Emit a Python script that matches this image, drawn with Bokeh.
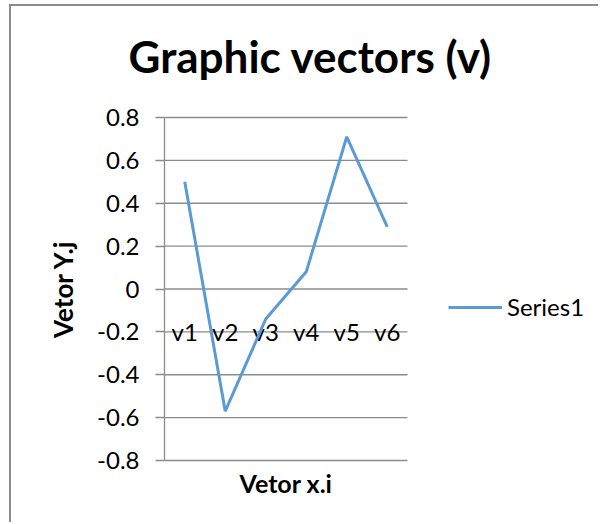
import math
from bokeh.plotting import figure
from bokeh.models import Range1d, FixedTicker, Legend, LegendItem
from bokeh.core.properties import value
from bokeh.embed import file_html
from bokeh.resources import INLINE

categories = ["v1", "v2", "v3", "v4", "v5", "v6"]
series1 = [0.5, -0.57, -0.14, 0.08, 0.71, 0.29]
y_ticks = [-0.8, -0.6, -0.4, -0.2, 0, 0.2, 0.4, 0.6, 0.8]
y_tick_labels = {-0.8: "-0.8", -0.6: "-0.6", -0.4: "-0.4", -0.2: "-0.2", 0: "0",
                 0.2: "0.2", 0.4: "0.4", 0.6: "0.6", 0.8: "0.8"}
label_row = [-0.2] * len(categories)
chart_title = "Graphic vectors (v)"
x_title = "Vetor x.i"
y_title = "Vetor Y.j"

# category slot centres on a numeric scale (slot i spans i..i+1)
x_pos = [i + 0.5 for i in range(len(categories))]
n_cat = len(categories)
y_lo, y_hi = y_ticks[0], y_ticks[-1]

FONT = "Lato"
GRID = "#8c8c8c"

# the frame covers the whole canvas; axes/titles are placed inside it
PX_X = 40.5      # pixels per category slot
PX_Y = 214.375   # pixels per y unit
W, H = 589, 518
LEFT, TOP = 153, 111  # canvas position of (x=0, y=y_hi)
x_range = Range1d(-LEFT / PX_X, (W - LEFT) / PX_X)
y_range = Range1d(y_hi - (H - TOP) / PX_Y, y_hi + TOP / PX_Y)

p = figure(width=W, height=H, x_range=x_range, y_range=y_range,
           output_backend="svg", toolbar_location=None,
           min_border_left=0, min_border_right=0, min_border_top=0, min_border_bottom=0)
p.styles = {"margin-left": "9px", "margin-top": "4px",
            "border-left": "2px solid #8c8c8c", "border-top": "2px solid #8c8c8c"}
p.outline_line_color = None
p.background_fill_color = "white"
p.xaxis.visible = False
p.xgrid.grid_line_color = None
p.ygrid.grid_line_color = None

# horizontal grid lines across the category slots only
p.segment(x0=[0] * len(y_ticks), x1=[n_cat] * len(y_ticks), y0=y_ticks, y1=y_ticks,
          line_color=GRID, line_width=1.3)

# y axis pinned at the left edge of the category slots
p.yaxis.fixed_location = 0
p.yaxis.bounds = (y_lo, y_hi)
p.yaxis.ticker = FixedTicker(ticks=y_ticks)
p.yaxis.major_label_overrides = y_tick_labels
p.yaxis.axis_line_color = GRID
p.yaxis.axis_line_width = 1.3
p.yaxis.major_tick_line_color = GRID
p.yaxis.major_tick_line_width = 1.3
p.yaxis.major_tick_out = 9
p.yaxis.major_tick_in = 0
p.yaxis.minor_tick_line_color = None
p.yaxis.major_label_text_font = FONT
p.yaxis.major_label_text_font_size = "24px"
p.yaxis.major_label_text_color = "black"
p.yaxis.major_label_standoff = 16

# titles
p.text(x=[n_cat * 0.6], y=[y_hi + 0.289], text=[chart_title], text_align="center",
       text_baseline="alphabetic", text_font=value(FONT), text_font_size="44px",
       text_font_style="bold", text_color="black")
p.text(x=[n_cat / 2], y=[y_lo - 0.107], text=[x_title], text_align="center",
       text_baseline="middle", text_font=value(FONT), text_font_size="25px",
       text_font_style="bold", text_color="black")
p.text(x=[-2.494], y=[(y_lo + y_hi) / 2], text=[y_title], angle=math.pi / 2,
       text_align="center", text_baseline="middle", text_font=value(FONT),
       text_font_size="26px", text_font_style="bold", text_color="black")

# category labels inside plot at -0.2
p.text(x=x_pos, y=label_row, text=categories, text_align="center",
       text_baseline="middle", text_font=value(FONT), text_font_size="24px",
       text_color="black")

r = p.line(x=x_pos, y=series1, line_color="#5b9bd5", line_width=3)

legend = Legend(items=[LegendItem(label="Series1", renderers=[r])],
                location=(437, 203), orientation="vertical")
legend.border_line_color = None
legend.background_fill_alpha = 0
legend.padding = 0
legend.margin = 0
legend.glyph_width = 54
legend.glyph_height = 24
legend.label_height = 24
legend.label_standoff = 5
legend.label_text_font = FONT
legend.label_text_font_size = "24px"
legend.label_text_color = "black"
p.add_layout(legend, "center")

open("out.html", "w").write(file_html(p, INLINE))
